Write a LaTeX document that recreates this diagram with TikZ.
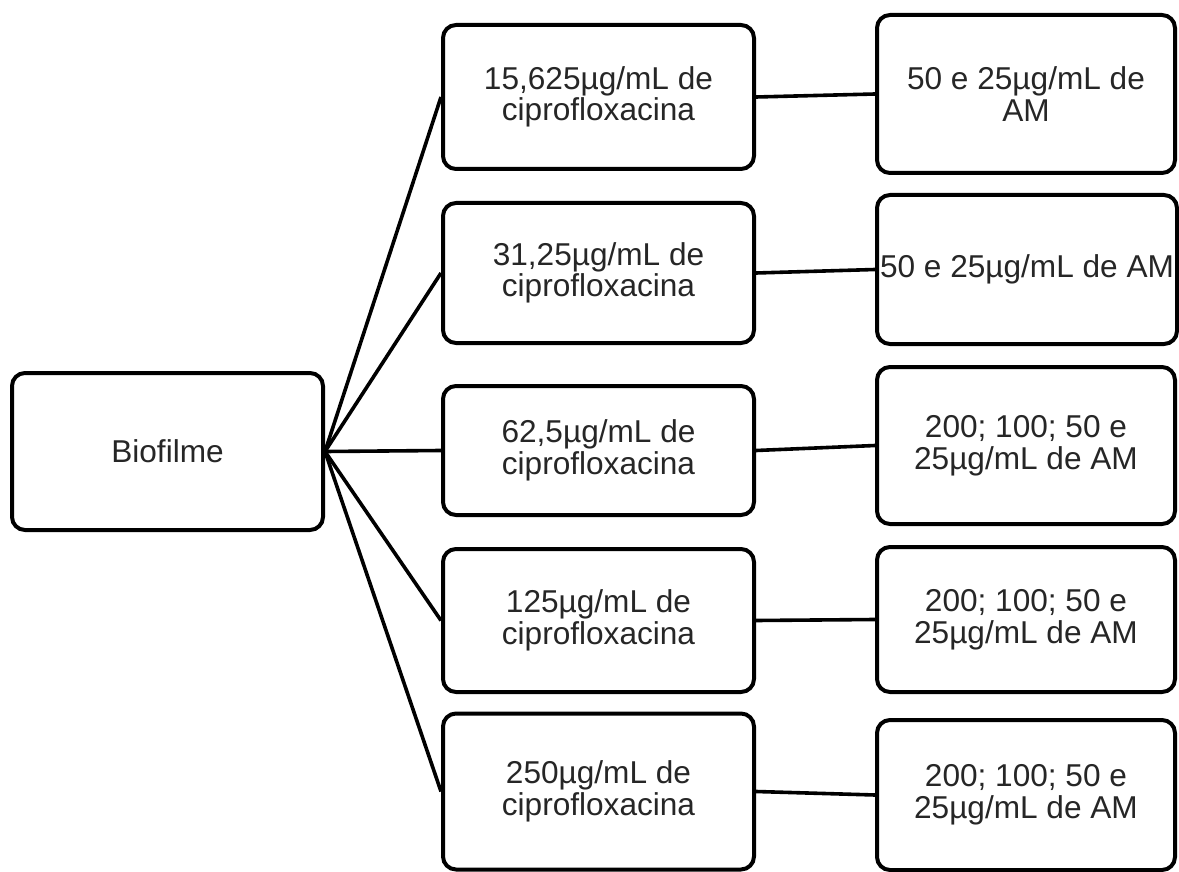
\documentclass[tikz,border=0pt]{standalone}
\usepackage{fontspec}
\setmainfont{Liberation Sans}
\tikzset{
  box/.style={draw=black, line width=2pt, rounded corners=6.5pt, fill=white,
    inner sep=0pt, align=center, text=black!85,
    font=\fontsize{15.8pt}{15.8pt}\selectfont},
  link/.style={draw=black, line width=1.8pt}
}
\begin{document}
\begin{tikzpicture}[x=0.5pt, y=-0.5pt]
  \useasboundingbox[fill=white] (0,0) rectangle (1179,872);

  % root
  \node[box, minimum width=155.5pt, minimum height=78.5pt] (bio) at (167.5,451.5) {Biofilme};

  % ciprofloxacin concentrations
  \node[box, minimum width=155.5pt, minimum height=72pt]   (m1) at (598.5,97)    {15,625µg/mL de\\ciprofloxacina};
  \node[box, minimum width=155.5pt, minimum height=70pt]   (m2) at (598.5,273)   {31,25µg/mL de\\ciprofloxacina};
  \node[box, minimum width=155.5pt, minimum height=64.5pt] (m3) at (598.5,450.5) {62,5µg/mL de\\ciprofloxacina};
  \node[box, minimum width=155.5pt, minimum height=71.5pt] (m4) at (598.5,620.5) {125µg/mL de\\ciprofloxacina};
  \node[box, minimum width=155.5pt, minimum height=78pt]   (m5) at (598.5,791.5) {250µg/mL de\\ciprofloxacina};

  % AM concentrations
  \node[box, minimum width=149pt, minimum height=79pt]   (r1) at (1026,94)    {50 e 25µg/mL de\\AM};
  \node[box, minimum width=150pt, minimum height=74.5pt] (r2) at (1027,269.5) {50 e 25µg/mL de AM};
  \node[box, minimum width=149pt, minimum height=78.5pt] (r3) at (1026,445.5) {200; 100; 50 e\\25µg/mL de AM};
  \node[box, minimum width=149pt, minimum height=72.5pt] (r4) at (1026,619.5) {200; 100; 50 e\\25µg/mL de AM};
  \node[box, minimum width=149pt, minimum height=75pt]   (r5) at (1026,795)   {200; 100; 50 e\\25µg/mL de AM};

  % connectors
  \foreach \i in {1,...,5} {
    \draw[link] (bio.east) -- (m\i.west);
    \draw[link] (m\i.east) -- (r\i.west);
  }
\end{tikzpicture}
\end{document}
